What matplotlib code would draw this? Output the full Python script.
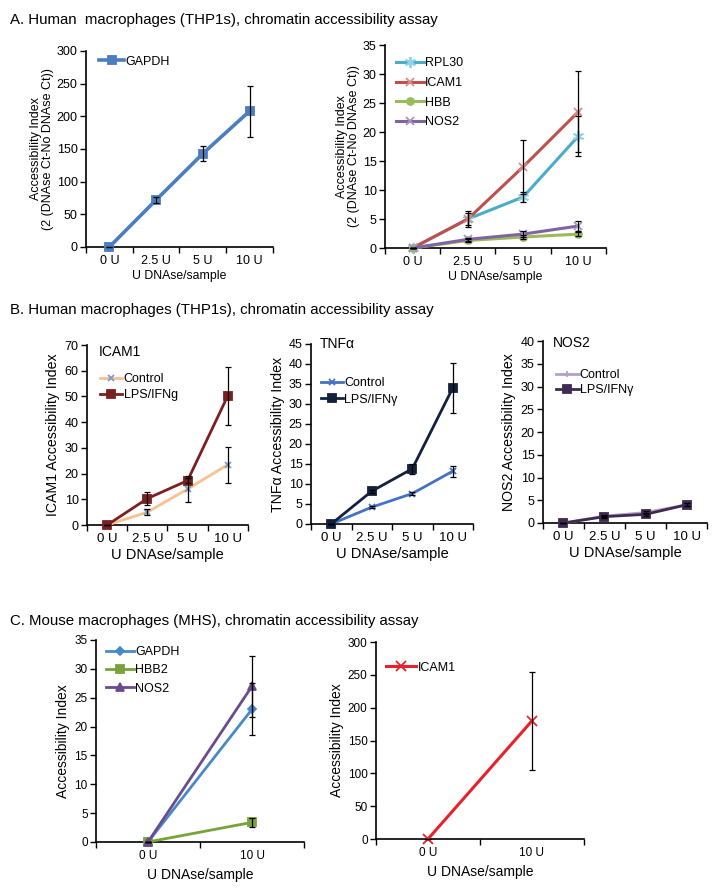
import numpy as np
import matplotlib
matplotlib.use("Agg")
import matplotlib.pyplot as plt

plt.rcParams['font.family'] = ['Liberation Sans', 'DejaVu Sans']

# ---------------- data ----------------
cats4 = ["0 U", "2.5 U", "5 U", "10 U"]
cats2 = ["0 U", "10 U"]

# Panel A left
a_gapdh = [0, 72, 143, 208]
a_gapdh_err = [0, 5, 12, 39]

# Panel A right
a_rpl30 = [0, 5.0, 8.8, 19.3]
a_rpl30_err = [0, 1.3, 0.8, 3.4]
a_icam1 = [0, 5.0, 14.0, 23.5]
a_icam1_err = [0, 1.0, 4.7, 7.0]
a_hbb = [0, 1.3, 1.9, 2.4]
a_hbb_err = [0, 0.2, 0.3, 0.4]
a_nos2 = [0, 1.5, 2.4, 3.8]
a_nos2_err = [0, 0.3, 0.5, 0.8]

# Panel B ICAM1
b_icam_ctrl = [0, 5.0, 14.0, 23.5]
b_icam_ctrl_err = [0, 1.2, 5.0, 7.0]
b_icam_lps = [0, 10.3, 17.3, 50.3]
b_icam_lps_err = [0, 2.5, 1.0, 11.3]

# Panel B TNFa
b_tnf_ctrl = [0, 4.2, 7.6, 13.2]
b_tnf_ctrl_err = [0, 0.3, 0.4, 1.4]
b_tnf_lps = [0, 8.2, 13.8, 34.0]
b_tnf_lps_err = [0, 0.4, 1.3, 6.3]

# Panel B NOS2
b_nos_ctrl = [0, 1.5, 2.3, 4.0]
b_nos_ctrl_err = [0, 0.2, 0.3, 0.3]
b_nos_lps = [0, 1.4, 1.9, 4.0]
b_nos_lps_err = [0, 0.2, 0.3, 0.3]

# Panel C left
c_gapdh = [0, 23.0]
c_gapdh_err = [0, 4.5]
c_hbb2 = [0, 3.4]
c_hbb2_err = [0, 0.8]
c_nos2 = [0, 27.0]
c_nos2_err = [0, 5.3]

# Panel C right
c_icam1 = [0, 180]
c_icam1_err = [0, 75]

# ---------------- figure ----------------
fig = plt.figure(figsize=(7.14, 8.89), dpi=100)


def setup(ax, cats, ymax, ystep, tick_fs=9, xtick_fs=9):
    n = len(cats)
    ax.set_xlim(-0.5, n - 0.5)
    ax.set_ylim(0, ymax)
    ax.set_yticks(np.arange(0, ymax + ystep / 2, ystep))
    ax.set_xticks(np.arange(-0.5, n, 1.0))
    ax.set_xticklabels([])
    ax.set_xticks(np.arange(n), minor=True)
    ax.set_xticklabels(cats, minor=True, fontsize=xtick_fs)
    ax.tick_params(axis='x', which='major', direction='out', length=4, width=1)
    ax.tick_params(axis='x', which='minor', length=0, pad=6)
    ax.tick_params(axis='y', direction='out', length=4, width=1, labelsize=tick_fs, pad=2)
    for s in ['top', 'right']:
        ax.spines[s].set_visible(False)
    for s in ['left', 'bottom']:
        ax.spines[s].set_linewidth(1.2)


def series(ax, x, y, err, color, marker, label, mec=None, ms=6, lw=2.2):
    ax.plot(x, y, color=color, lw=lw, marker=marker, ms=ms,
            mec=mec if mec else color, mfc=mec if mec else color,
            mew=1.3, label=label, clip_on=False, zorder=3)
    ax.errorbar(x, y, yerr=err, fmt='none', ecolor='black', elinewidth=0.9,
                capsize=2.5, capthick=0.9, zorder=4, clip_on=False)


x4 = np.arange(4)
x2 = np.arange(2)

# Titles
fig.text(0.014, 0.985, "A. Human  macrophages (THP1s), chromatin accessibility assay",
         fontsize=10.8, va='top', ha='left')
fig.text(0.014, 0.659, "B. Human macrophages (THP1s), chromatin accessibility assay",
         fontsize=10.8, va='top', ha='left')
fig.text(0.014, 0.309, "C. Mouse macrophages (MHS), chromatin accessibility assay",
         fontsize=10.8, va='top', ha='left')

# ---- A left ----
ax = fig.add_axes([0.1204, 0.7222, 0.262, 0.2205])
setup(ax, cats4, 300, 50)
series(ax, x4, a_gapdh, a_gapdh_err, '#4a7ebf', 's', 'GAPDH', ms=6, lw=2.6)
ax.set_xlabel("U DNAse/sample", fontsize=8.8, labelpad=2)
ax.set_ylabel("Accessibility Index\n(2 (DNAse Ct-No DNAse Ct))", fontsize=9,
              linespacing=0.95, labelpad=2)
ax.legend(loc='upper left', bbox_to_anchor=(0.07, 0.975), frameon=False, fontsize=9,
          handlelength=2.0, handletextpad=0.1, borderpad=0, borderaxespad=0)

# ---- A right ----
ax = fig.add_axes([0.5392, 0.721, 0.3095, 0.2283])
setup(ax, cats4, 35, 5)
series(ax, x4, a_rpl30, a_rpl30_err, '#4aacc6', (6, 2, 0), 'RPL30', mec='#8fd3e6', ms=8)
series(ax, x4, a_icam1, a_icam1_err, '#c0504d', 'x', 'ICAM1', mec='#d98e8c', ms=6)
series(ax, x4, a_hbb, a_hbb_err, '#9bbb59', 'o', 'HBB', ms=5)
series(ax, x4, a_nos2, a_nos2_err, '#8064a2', 'x', 'NOS2', mec='#a993c4', ms=6)
ax.set_xlabel("U DNAse/sample", fontsize=8.8, labelpad=2)
ax.set_ylabel("Accessibility Index\n(2 (DNAse Ct-No DNAse Ct))", fontsize=9,
              linespacing=0.95, labelpad=2)
ax.legend(loc='upper left', bbox_to_anchor=(0.05, 0.94), frameon=False, fontsize=9,
          handlelength=2.2, handletextpad=0.1, borderpad=0, borderaxespad=0,
          labelspacing=0.62)

# ---- B ICAM1 ----
ax = fig.add_axes([0.1218, 0.4094, 0.2255, 0.2025])
setup(ax, cats4, 70, 10, xtick_fs=9.5)
series(ax, x4, b_icam_ctrl, b_icam_ctrl_err, '#fac08f', 'x', 'Control', mec='#7f9ac4', ms=5, lw=2)
series(ax, x4, b_icam_lps, b_icam_lps_err, '#7b2020', 's', 'LPS/IFNg', ms=5.5, lw=2)
ax.set_xlabel("U DNAse/sample", fontsize=10.5, labelpad=2)
ax.set_ylabel("ICAM1 Accessibility Index", fontsize=10.2, labelpad=3)
ax.text(0.075, 0.96, "ICAM1", transform=ax.transAxes, fontsize=10, va='center', ha='left')
ax.legend(loc='upper left', bbox_to_anchor=(0.08, 0.845), frameon=False, fontsize=9,
          handlelength=1.8, handletextpad=0.1, borderpad=0, borderaxespad=0,
          labelspacing=0.35)

# ---- B TNFa ----
ax = fig.add_axes([0.4356, 0.4106, 0.2269, 0.2025])
setup(ax, cats4, 45, 5, xtick_fs=9.5)
series(ax, x4, b_tnf_ctrl, b_tnf_ctrl_err, '#4472c4', 'x', 'Control', ms=5, lw=2)
series(ax, x4, b_tnf_lps, b_tnf_lps_err, '#14213d', 's', 'LPS/IFN\u03b3', ms=5.5, lw=2)
ax.set_xlabel("U DNAse/sample", fontsize=10.5, labelpad=2)
ax.set_ylabel("TNF\u03b1 Accessibility Index", fontsize=10.2, labelpad=3)
ax.text(0.055, 1.0, "TNF\u03b1", transform=ax.transAxes, fontsize=10, va='center', ha='left')
ax.legend(loc='upper left', bbox_to_anchor=(0.06, 0.815), frameon=False, fontsize=9,
          handlelength=1.8, handletextpad=0.1, borderpad=0, borderaxespad=0,
          labelspacing=0.35)

# ---- B NOS2 ----
ax = fig.add_axes([0.7605, 0.4117, 0.2297, 0.2047])
setup(ax, cats4, 40, 5, xtick_fs=9.5)
series(ax, x4, b_nos_ctrl, b_nos_ctrl_err, '#b3a2c7', '+', 'Control', ms=5, lw=2)
series(ax, x4, b_nos_lps, b_nos_lps_err, '#3f2b52', 's', 'LPS/IFN\u03b3', ms=5.5, lw=2)
ax.set_xlabel("U DNAse/sample", fontsize=10.5, labelpad=2)
ax.set_ylabel("NOS2 Accessibility Index", fontsize=10.2, labelpad=3)
ax.text(0.06, 0.99, "NOS2", transform=ax.transAxes, fontsize=10, va='center', ha='left')
ax.legend(loc='upper left', bbox_to_anchor=(0.08, 0.845), frameon=False, fontsize=9,
          handlelength=1.8, handletextpad=0.1, borderpad=0, borderaxespad=0,
          labelspacing=0.25)

# ---- C left ----
ax = fig.add_axes([0.1345, 0.0529, 0.2913, 0.2272])
setup(ax, cats2, 35, 5, tick_fs=8.5, xtick_fs=8.5)
series(ax, x2, c_gapdh, c_gapdh_err, '#4a89c8', 'D', 'GAPDH', ms=4.5, lw=2)
series(ax, x2, c_hbb2, c_hbb2_err, '#77a33a', 's', 'HBB2', ms=6, lw=2)
series(ax, x2, c_nos2, c_nos2_err, '#6a4c8c', '^', 'NOS2', ms=6, lw=2)
ax.set_xlabel("U DNAse/sample", fontsize=10, labelpad=4)
ax.set_ylabel("Accessibility Index", fontsize=10, labelpad=3)
ax.legend(loc='upper left', bbox_to_anchor=(0.05, 0.97), frameon=False, fontsize=9,
          handlelength=2.2, handletextpad=0.1, borderpad=0, borderaxespad=0,
          labelspacing=0.5)

# ---- C right ----
ax = fig.add_axes([0.5266, 0.0562, 0.2913, 0.2216])
setup(ax, cats2, 300, 50, tick_fs=8.5, xtick_fs=8.5)
series(ax, x2, c_icam1, c_icam1_err, '#e8222a', 'x', 'ICAM1', ms=7, lw=2.2)
ax.set_xlabel("U DNAse/sample", fontsize=10, labelpad=4)
ax.set_ylabel("Accessibility Index", fontsize=10, labelpad=3)
ax.legend(loc='upper left', bbox_to_anchor=(0.05, 0.9), frameon=False, fontsize=9,
          handlelength=2.4, handletextpad=0.1, borderpad=0, borderaxespad=0)

fig.savefig("out.png", dpi=100)
